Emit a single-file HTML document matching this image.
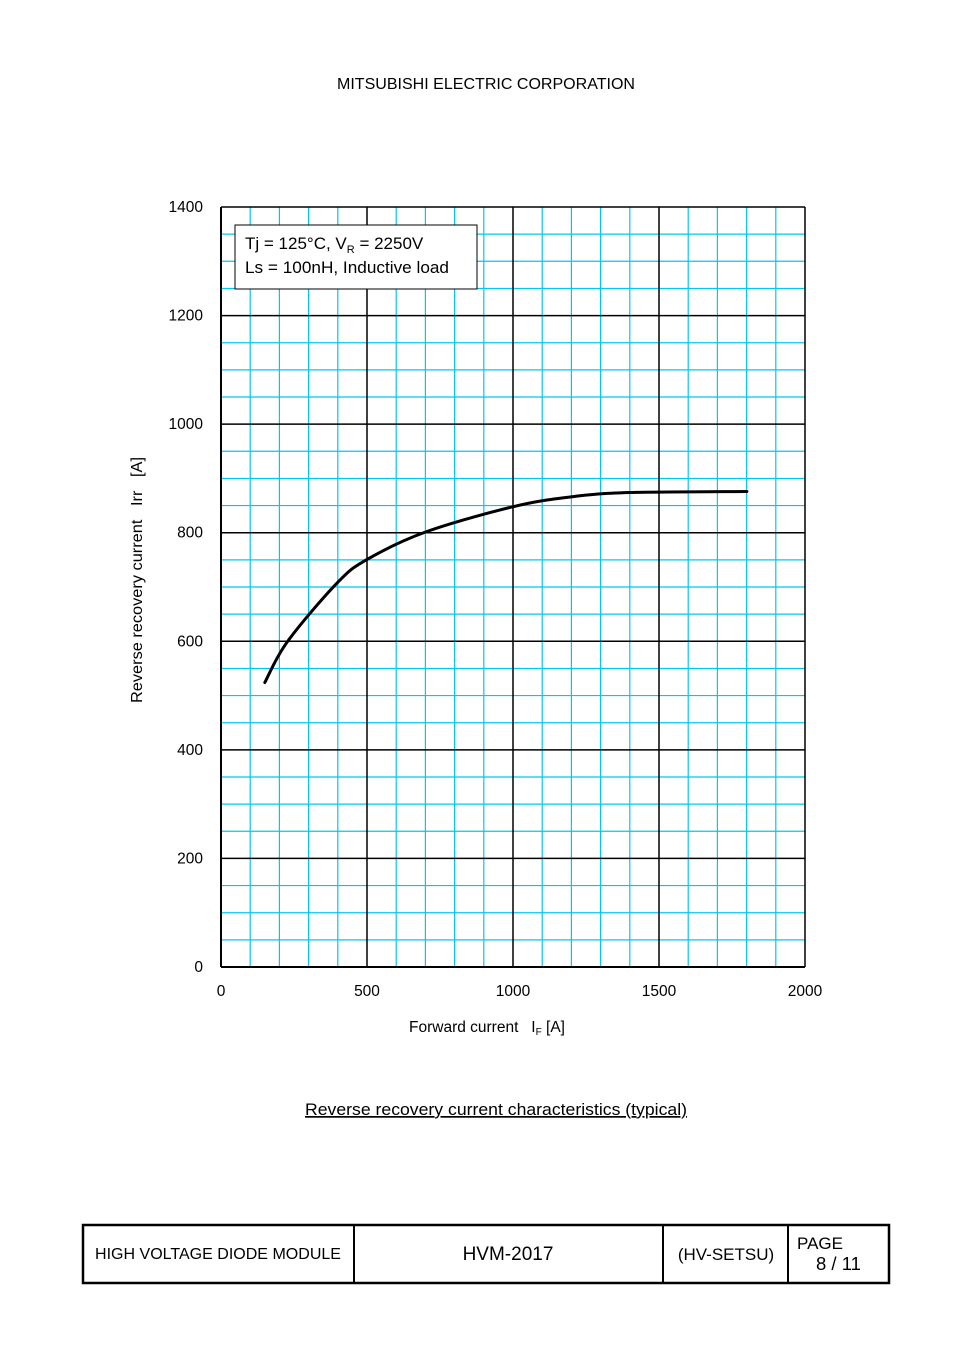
<!DOCTYPE html>
<html><head><meta charset="utf-8"><style>
body{margin:0;background:#fff;font-family:"Liberation Sans",Arial,sans-serif;}
</style></head><body>
<svg width="954" height="1350" viewBox="0 0 954 1350" xmlns="http://www.w3.org/2000/svg" font-family="Liberation Sans, Arial, sans-serif">
<text x="337" y="89" font-size="16" textLength="298" lengthAdjust="spacingAndGlyphs">MITSUBISHI ELECTRIC CORPORATION</text>
<g id="grid"></g>
<g id="ticks" font-size="15.5"></g>
<rect x="235" y="225" width="242" height="64" fill="#fff" stroke="#000" stroke-width="1"/>
<text x="245" y="249" font-size="17">Tj = 125°C, V<tspan font-size="11" dy="4">R</tspan><tspan dy="-4"> = 2250V</tspan></text>
<text x="245" y="273" font-size="17" textLength="204" lengthAdjust="spacingAndGlyphs">Ls = 100nH, Inductive load</text>
<path id="curve" fill="none" stroke="#000" stroke-width="3" stroke-linecap="round"/>
<text transform="translate(142,703) rotate(-90)" font-size="15.5" xml:space="preserve" textLength="246" lengthAdjust="spacingAndGlyphs">Reverse recovery current   Irr   [A]</text>
<text x="409" y="1032" font-size="15.5" xml:space="preserve">Forward current   I<tspan font-size="10" dy="3">F</tspan><tspan dy="-3"> [A]</tspan></text>
<text x="305" y="1115" font-size="17" textLength="382" lengthAdjust="spacingAndGlyphs" text-decoration="underline">Reverse recovery current characteristics (typical)</text>
<g>
<rect x="83" y="1225" width="806" height="58" fill="none" stroke="#000" stroke-width="2.5"/>
<line x1="354" y1="1225" x2="354" y2="1283" stroke="#000" stroke-width="2"/>
<line x1="663" y1="1225" x2="663" y2="1283" stroke="#000" stroke-width="2"/>
<line x1="788" y1="1225" x2="788" y2="1283" stroke="#000" stroke-width="2"/>
<text x="95" y="1259" font-size="15.5" textLength="246" lengthAdjust="spacingAndGlyphs">HIGH VOLTAGE DIODE MODULE</text>
<text x="508" y="1260" font-size="19" text-anchor="middle">HVM-2017</text>
<text x="726" y="1260" font-size="17" text-anchor="middle">(HV-SETSU)</text>
<text x="797" y="1249" font-size="17">PAGE</text>
<text x="816" y="1270" font-size="18.5">8 / 11</text>
</g>
</svg>
<script>
const xTicks=[0,500,1000,1500,2000];
const yTicks=[0,200,400,600,800,1000,1200,1400];
const curveX=[150,227,397,501,704,1001,1199,1400,1801];
const curveY=[524,599,707,751,802,848,866,874,876];
const X0=221,X1=805,Y0=967,Y1=207;
const sx=v=>X0+(v/2000)*(X1-X0);
const sy=v=>Y0-(v/1400)*(Y0-Y1);
const ns='http://www.w3.org/2000/svg';
const grid=document.getElementById('grid');
function ln(x1,y1,x2,y2,c,w,name){const l=document.createElementNS(ns,'line');
l.setAttribute('x1',x1);l.setAttribute('y1',y1);l.setAttribute('x2',x2);l.setAttribute('y2',y2);
l.setAttribute('stroke',c);l.setAttribute('stroke-width',w);


grid.appendChild(l);}
for(let v=100;v<2000;v+=100){if(v%500)ln(sx(v),Y1,sx(v),Y0,'#00c8f0',1.2,'minor-grid-x');}
for(let v=50;v<1400;v+=50){if(v%200)ln(X0,sy(v),X1,sy(v),'#00c8f0',1.2,'minor-grid-y');}
for(let v=500;v<2000;v+=500)ln(sx(v),Y1,sx(v),Y0,'#000',1.5,'major-grid-x');
for(let v=200;v<1400;v+=200)ln(X0,sy(v),X1,sy(v),'#000',1.5,'major-grid-y');
ln(X0,Y1,X1,Y1,'#000',1.5,'plot-border-top');ln(X1,Y1,X1,Y0,'#000',1.5,'plot-border-right');
ln(X0,Y1,X0,Y0,'#000',2,'y-axis');ln(X0,Y0,X1,Y0,'#000',2,'x-axis');
const tk=document.getElementById('ticks');
xTicks.forEach(v=>{const t=document.createElementNS(ns,'text');t.setAttribute('x',sx(v));t.setAttribute('y',996);t.setAttribute('text-anchor','middle');t.textContent=v;


tk.appendChild(t);});
yTicks.forEach(v=>{const t=document.createElementNS(ns,'text');t.setAttribute('x',203);t.setAttribute('y',sy(v)+5);t.setAttribute('text-anchor','end');t.textContent=v;


tk.appendChild(t);});
const pts=curveX.map((x,i)=>[sx(x),sy(curveY[i])]);
let d='M'+pts[0][0]+','+pts[0][1];
for(let i=0;i<pts.length-1;i++){const p0=pts[i-1]||pts[i],p1=pts[i],p2=pts[i+1],p3=pts[i+2]||p2;
d+=' C'+(p1[0]+(p2[0]-p0[0])/6)+','+(p1[1]+(p2[1]-p0[1])/6)+' '+(p2[0]-(p3[0]-p1[0])/6)+','+(p2[1]-(p3[1]-p1[1])/6)+' '+p2[0]+','+p2[1];}
document.getElementById('curve').setAttribute('d',d);
</script>
</body></html>
